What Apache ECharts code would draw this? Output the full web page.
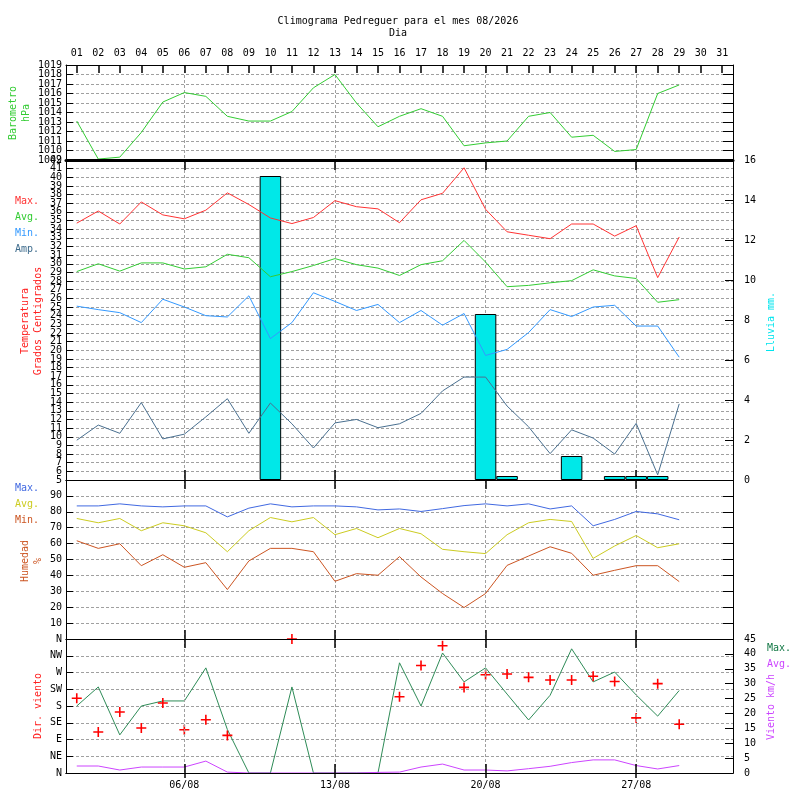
<!DOCTYPE html>
<html><head><meta charset="utf-8">
<script src="https://cdn.jsdelivr.net/npm/echarts@6/dist/echarts.min.js"></script>
<style>html,body{margin:0;padding:0;background:#fff}#c{width:800px;height:800px}</style>
</head><body><div id="c"></div>
<script>
// ---- data ----
const days = ['01','02','03','04','05','06','07','08','09','10','11','12','13','14','15','16','17','18','19','20','21','22','23','24','25','26','27','28','29','30','31'];
const weekDays = ['06','13','20','27'];
const baro = [1013.1,1009.1,1009.3,1011.9,1015.1,1016.1,1015.7,1013.6,1013.1,1013.1,1014.1,1016.6,1018.0,1015.0,1012.5,1013.6,1014.4,1013.6,1010.5,1010.8,1011.0,1013.6,1014.0,1011.4,1011.6,1009.9,1010.1,1016.0,1016.9];
const tMax = [34.7,36.1,34.6,37.15,35.65,35.2,36.2,38.2,36.85,35.3,34.65,35.35,37.3,36.6,36.35,34.75,37.4,38.15,41.1,36.3,33.7,33.3,32.9,34.6,34.6,33.2,34.4,28.4,33.1];
const tAvg = [29.1,30.0,29.15,30.1,30.1,29.4,29.65,31.1,30.7,28.5,29.1,29.8,30.6,29.9,29.5,28.65,29.9,30.35,32.7,30.2,27.35,27.5,27.8,28.05,29.3,28.6,28.3,25.55,25.85];
const tMin = [25.1,24.7,24.35,23.2,25.9,25.0,24.0,23.85,26.3,21.35,23.2,26.65,25.65,24.6,25.3,23.2,24.6,22.9,24.25,19.4,20.1,22.05,24.7,23.9,25.0,25.2,22.8,22.8,19.2];
const tAmp = [9.6,11.35,10.4,13.95,9.75,10.3,12.3,14.4,10.4,13.9,11.5,8.7,11.6,12.0,11.05,11.5,12.7,15.3,16.9,16.9,13.55,11.15,8.05,10.8,9.85,8.0,11.55,5.6,13.8];
const rain = [null,null,null,null,null,null,null,null,null,15.2,null,null,null,null,null,null,null,null,null,8.3,0.2,null,null,1.2,null,0.2,0.2,0.2,null,null,null];
const hMax = [83.7,83.7,85.0,83.7,83.1,83.7,83.7,76.8,82.3,85.0,83.1,83.7,83.7,83.1,81.2,81.8,80.2,82.0,83.9,85.0,83.7,85.0,81.8,83.7,71.2,75.2,80.2,78.7,75.0];
const hAvg = [75.8,73.1,75.8,68.1,73.1,71.2,66.8,54.9,68.1,76.4,73.7,76.4,65.6,69.5,63.7,69.5,66.2,56.4,54.9,53.7,65.6,73.1,75.2,73.9,50.7,58.5,65.1,57.4,59.9];
const hMin = [61.8,57.0,59.9,46.1,53.0,45.1,48.0,31.1,49.1,57.0,57.0,54.9,36.3,41.1,40.1,51.8,39.0,28.6,19.8,28.6,46.3,52.2,58.0,53.9,40.1,43.2,46.1,46.1,36.1];
const wMax = [22.5,28.9,12.8,22.5,24.2,24.2,35.3,14.6,0,0,28.9,0,0,0,0,37.0,22.5,40.3,30.6,35.3,26.5,17.8,26.1,41.7,30.6,33.9,26.2,19.1,27.7];
const wAvg = [2.35,2.35,1.0,2.0,2.0,2.0,4.0,0.3,0,0,0,0,0,0,0.2,0.3,2.0,3.0,1.0,1.0,0.7,1.45,2.25,3.5,4.4,4.4,2.5,1.35,2.5];
const wDir = [201,110,164,121,188,116,143,101,null,null,360,null,null,null,null,205,289,342,230,264,266,257,250,250,260,246,148,240,131];
const dirLabels = ['N','NE','E','SE','S','SW','W','NW','N'];

// ---- chart ----
const FONT = '"DejaVu Sans Mono", monospace';
const chart = echarts.init(document.getElementById('c'), null, {renderer:'canvas'});
const weekly = (i) => weekDays.indexOf(days[i]) >= 0;
const gridDash = {show:true, lineStyle:{color:'#a0a0a0', type:[3,2], width:1}};
const weekSplit = {show:true, alignWithLabel:true, interval:weekly, lineStyle:{color:'#a0a0a0', type:[3,2], width:1}};

function xa(grid, pos, o) {
  o = o || {};
  return {
    type:'category', data:days, gridIndex:grid, position:pos, boundaryGap:true, z:o.z || 0,
    axisLine:{show:true, lineStyle:{color:'#000', width:o.lineWidth || 1}},
    axisTick:o.tick || {show:true, alignWithLabel:true, interval:weekly, length:o.tickLen || 9, inside:false, lineStyle:{color:'#000', width:1.5}},
    axisLabel:o.label || {show:false},
    splitLine:o.split ? weekSplit : {show:false}
  };
}
function ya(grid, pos, min, max, interval, o) {
  o = o || {};
  return {
    type:'value', gridIndex:grid, position:pos, min:min, max:max, interval:interval,
    axisLine:{show:o.noLine ? false : true, lineStyle:{color:'#000', width:1}},
    axisTick:{show:o.noLine ? false : true, inside:true, length:o.tickLen || 7, lineStyle:{color:'#000'}},
    axisLabel:o.label || {show:false},
    splitLine:o.split ? gridDash : {show:false}
  };
}
const lblStyle = {color:'#000', fontFamily:FONT, fontSize:10, showMinLabel:true, showMaxLabel:true, hideOverlap:false};
const innerLbl = (f) => Object.assign({}, lblStyle, {show:true, margin:4, showMinLabel:false, showMaxLabel:false, formatter:f || (v => String(v))});
const edgeLbl = (lo, hi) => Object.assign({}, lblStyle, {show:true, margin:4, formatter:v => (v === lo || v === hi) ? String(v) : ''});
function ln(name, data, color, xi, yi) {
  return {name:name, type:'line', data:data, xAxisIndex:xi, yAxisIndex:yi,
    symbol:'none', lineStyle:{color:color, width:1}, itemStyle:{color:color}, animation:false, z:3};
}
function txt(t, x, y, color, rot, align) {
  return {type:'text', x:x, y:y, rotation:rot || 0, silent:true,
    style:{text:t, x:0, y:0, fill:color, font:'10px ' + FONT, align:align || 'left', verticalAlign:'middle', lineHeight:13}};
}

const option = {
  backgroundColor:'#fff',
  animation:false,
  grid:[
    {left:66, right:67, top:65, height:95},
    {left:66, right:67, top:160, height:320},
    {left:66, right:67, top:480, height:159},
    {left:66, right:67, top:639, height:134}
  ],
  xAxis:[
    xa(0,'top',{split:true, tick:{show:true, alignWithLabel:true, interval:0, inside:true, length:8, lineStyle:{color:'#000', width:1.5}},
                label:Object.assign({show:true, interval:0, margin:7}, lblStyle)}),
    xa(0,'bottom',{lineWidth:3, tickLen:10, z:5}),
    xa(1,'top',{tickLen:10, split:true}),
    xa(1,'bottom',{tickLen:9, z:5}),
    xa(2,'top',{tickLen:9, split:true}),
    xa(2,'bottom',{tickLen:9, z:5}),
    xa(3,'top',{tickLen:9, split:true, z:5}),
    xa(3,'bottom',{tickLen:5, z:5, label:Object.assign({show:true, interval:weekly, margin:7, formatter:v => v + '/08'}, lblStyle)})
  ],
  yAxis:[
    ya(0,'left',1009,1019,1,{split:true, label:innerLbl()}),
    ya(0,'right',1009,1019,1,{tickLen:10}),
    ya(1,'left',5,42,1,{split:true, label:innerLbl()}),
    ya(1,'right',0,16,2,{tickLen:8, label:Object.assign({show:true, margin:11}, lblStyle)}),
    ya(2,'left',0,100,10,{split:true, label:innerLbl()}),
    ya(2,'right',0,100,10,{tickLen:10}),
    ya(3,'left',0,360,45,{split:true, label:Object.assign({show:true, margin:4, formatter:v => dirLabels[Math.round(v/45)]}, lblStyle)}),
    ya(3,'right',0,45,5,{tickLen:8, label:Object.assign({show:true, margin:11}, lblStyle)}),
    ya(0,'left',1009,1019,1,{noLine:true, label:edgeLbl(1009, 1019)}),
    ya(1,'left',5,42,1,{noLine:true, label:edgeLbl(5, 42)})
  ],
  series:[
    ln('Barometro', baro, '#33cc33', 0, 0),
    {name:'Lluvia', type:'bar', data:rain, xAxisIndex:2, yAxisIndex:3, barCategoryGap:'0%', barGap:'0%', z:2, animation:false,
      itemStyle:{color:'#00e8e8', borderColor:'#000', borderWidth:1}},
    ln('Max', tMax, '#ff3333', 2, 2),
    ln('Avg', tAvg, '#33cc33', 2, 2),
    ln('Min', tMin, '#3399ff', 2, 2),
    ln('Amp', tAmp, '#4a7090', 2, 2),
    ln('HMax', hMax, '#4169e1', 4, 4),
    ln('HAvg', hAvg, '#cccc22', 4, 4),
    ln('HMin', hMin, '#cc5522', 4, 4),
    ln('WMax', wMax, '#2e8b57', 6, 7),
    ln('WAvg', wAvg, '#cc44ff', 6, 7),
    {name:'Dir', type:'scatter', data:wDir, xAxisIndex:6, yAxisIndex:6, z:3, animation:false,
      symbol:'path://M0,4.2H10V5.8H0Z M4.2,0H5.8V10H4.2Z', symbolSize:10,
      itemStyle:{color:'#ff0000', opacity:1}}
  ],
  graphic:[
    txt('Climograma Pedreguer para el mes 08/2026', 398, 21, '#000', 0, 'center'),
    txt('Dia', 398, 33, '#000', 0, 'center'),
    txt('Barometro\nhPa', 20, 113, '#33cc33', Math.PI/2, 'center'),
    txt('Max.', 15, 201, '#ff3333'),
    txt('Avg.', 15, 217, '#33cc33'),
    txt('Min.', 15, 233, '#3399ff'),
    txt('Amp.', 15, 249, '#3d6b8c'),
    txt('Temperatura\nGrados Centigrados', 32, 321, '#ff2222', Math.PI/2, 'center'),
    txt('Lluvia mm.', 771, 322, '#00e5ee', Math.PI/2, 'center'),
    txt('Max.', 15, 488, '#4169e1'),
    txt('Avg.', 15, 504, '#cccc22'),
    txt('Min.', 15, 520, '#cc5522'),
    txt('Humedad\n%', 32, 561, '#cc5522', Math.PI/2, 'center'),
    txt('Dir. viento', 38, 706, '#ff2222', Math.PI/2, 'center'),
    txt('Max.', 767, 648, '#117744'),
    txt('Avg.', 767, 664, '#cc44ff'),
    txt('Viento km/h', 771, 707, '#cc44ff', Math.PI/2, 'center')
  ]
};
chart.setOption(option);
</script>
</body></html>
